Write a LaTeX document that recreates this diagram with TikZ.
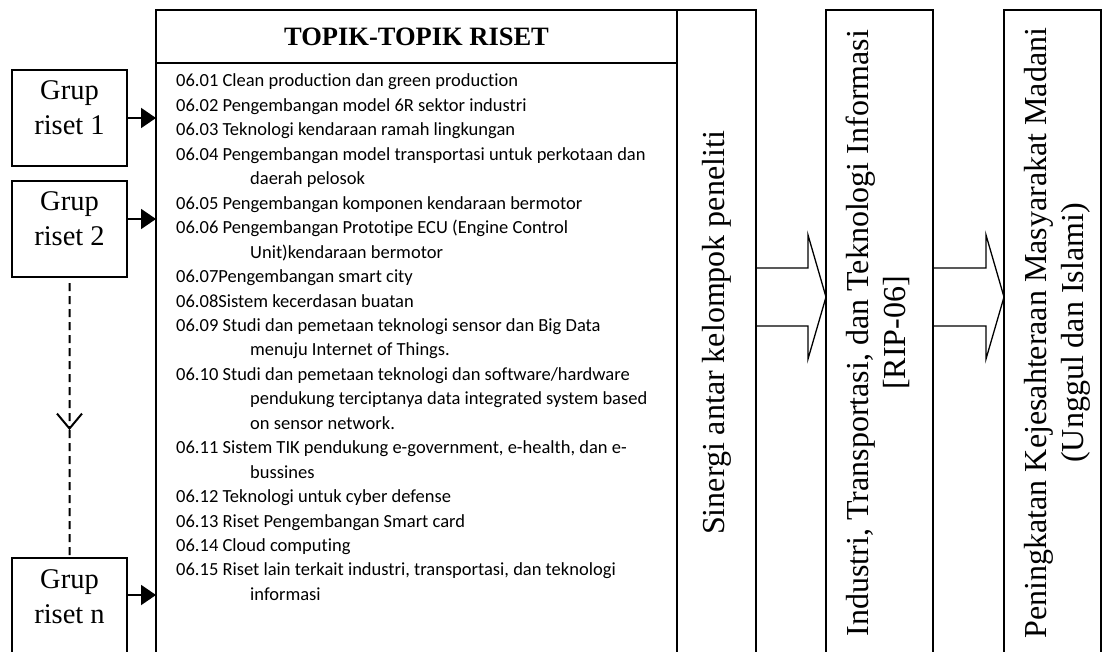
\documentclass[tikz,border=0pt]{standalone}
\usepackage{fontspec}
\setmainfont{Liberation Serif}
\newfontfamily\calibrifont[Ligatures=NoCommon]{Carlito}
\usetikzlibrary{arrows.meta,positioning,calc}
\tikzset{
  kotak/.style={rectangle, draw, line width=2pt, inner sep=0pt, outer sep=0pt},
  grup/.style={kotak, minimum width=115, minimum height=96, text height=30pt, text depth=66pt,
               font=\fontsize{28.5}{35}\selectfont},
  judul/.style={kotak, minimum width=521, minimum height=53, font=\fontsize{26.5}{30}\selectfont\bfseries},
  tegak/.style={kotak, minimum height=646, font=\fontsize{32}{37}\selectfont},
  daftar/.style={inner sep=0pt, font=\calibrifont\fontsize{18.5}{24.45}\selectfont},
  garr/.style={-{Triangle[length=15pt,width=20pt]}, line width=2pt},
  darr/.style={-{Straight Barb[length=15pt,width=25pt]}, line width=2pt, dash pattern=on 8pt off 5pt},
  dline/.style={line width=2pt, dash pattern=on 8pt off 5pt},
  barr/.style={line width=1.3pt, line join=miter},
}
\newcommand{\lanjut}{\hspace*{74pt}}
\newcommand{\blokpanah}[2]{%
  \draw[barr] ($(#1.east |- ax)+(0,-29)$) -- ($(#2.west |- ax)+(-18,-29)$) -- ($(#2.west |- ax)+(-18,-62)$)
    -- (#2.west |- ax) -- ($(#2.west |- ax)+(-18,62)$) -- ($(#2.west |- ax)+(-18,29)$) -- ($(#1.east |- ax)+(0,29)$);}

\begin{document}
\begin{tikzpicture}[x=1pt, y=-1pt, node distance=0pt]
\clip (0,0) rectangle (1102,652);
\node[judul] (judul) at (416.5,36.5) {TOPIK-TOPIK RISET};
\node[kotak, minimum width=521, minimum height=600, below=of judul] (topik) {};
\node[daftar, anchor=base west] (isi) at ($(topik.north west)+(20,24)$) {\begin{tabular}[t]{@{}l@{}}
06.01 Clean production dan green production\\
06.02 Pengembangan model 6R sektor industri\\
06.03 Teknologi kendaraan ramah lingkungan\\
06.04 Pengembangan model transportasi untuk perkotaan dan\\
\lanjut daerah pelosok\\
06.05 Pengembangan komponen kendaraan bermotor\\
06.06 Pengembangan Prototipe ECU (Engine Control\\
\lanjut Unit)kendaraan bermotor\\
06.07Pengembangan smart city\\
06.08Sistem kecerdasan buatan\\
06.09 Studi dan pemetaan teknologi sensor dan Big Data\\
\lanjut menuju Internet of Things.\\
06.10 Studi dan pemetaan teknologi dan software/hardware\\
\lanjut pendukung terciptanya data integrated system based\\
\lanjut on sensor network.\\
06.11 Sistem TIK pendukung e-government, e-health, dan e-\\
\lanjut bussines\\
06.12 Teknologi untuk cyber defense\\
06.13 Riset Pengembangan Smart card\\
06.14 Cloud computing\\
06.15 Riset lain terkait industri, transportasi, dan teknologi\\
\lanjut informasi
\end{tabular}};
\node[tegak, minimum width=79, below right=0pt and 0pt of judul.north east] (sinergi) {\rotatebox{90}{Sinergi antar kelompok peneliti}};
\node[tegak, minimum width=107, right=70pt of sinergi] (rip) {\rotatebox{90}{\begin{tabular}{@{}c@{}}Industri, Transportasi, dan Teknologi Informasi\\{[RIP-06]}\end{tabular}}};
\node[tegak, minimum width=97, right=71pt of rip] (madani) {\rotatebox{90}{\raisebox{-5pt}[\height][\depth]{\begin{tabular}{@{}c@{}}Peningkatan Kejesahteraan Masyarakat Madani\\(Unggul dan Islami)\end{tabular}}}};
\node[grup] (g1) at (69.5,118) {\begin{tabular}[t]{@{}c@{}}Grup\\riset 1\end{tabular}};
\node[grup] (g2) at (69.5,229) {\begin{tabular}[t]{@{}c@{}}Grup\\riset 2\end{tabular}};
\node[grup] (gn) at (69.5,606) {\begin{tabular}[t]{@{}c@{}}Grup\\riset n\end{tabular}};
\coordinate (ax) at (0,297);
\blokpanah{sinergi}{rip}
\blokpanah{rip}{madani}
\draw[garr] (g1.east) -- (g1.east -| topik.west);
\coordinate (g2e) at ([yshift=10pt]g2.east);
\draw[garr] (g2e) -- (g2e -| topik.west);
\coordinate (gne) at ([yshift=11pt]gn.east);
\draw[garr] (gne) -- (gne -| topik.west);
\coordinate (tengah) at ($(g2.south)!0.545!(gn.north)$);
\draw[darr] ([yshift=-6pt]g2.south) -- (tengah);
\draw[dline] (tengah) -- ([yshift=3pt]gn.north);
\end{tikzpicture}
\end{document}
